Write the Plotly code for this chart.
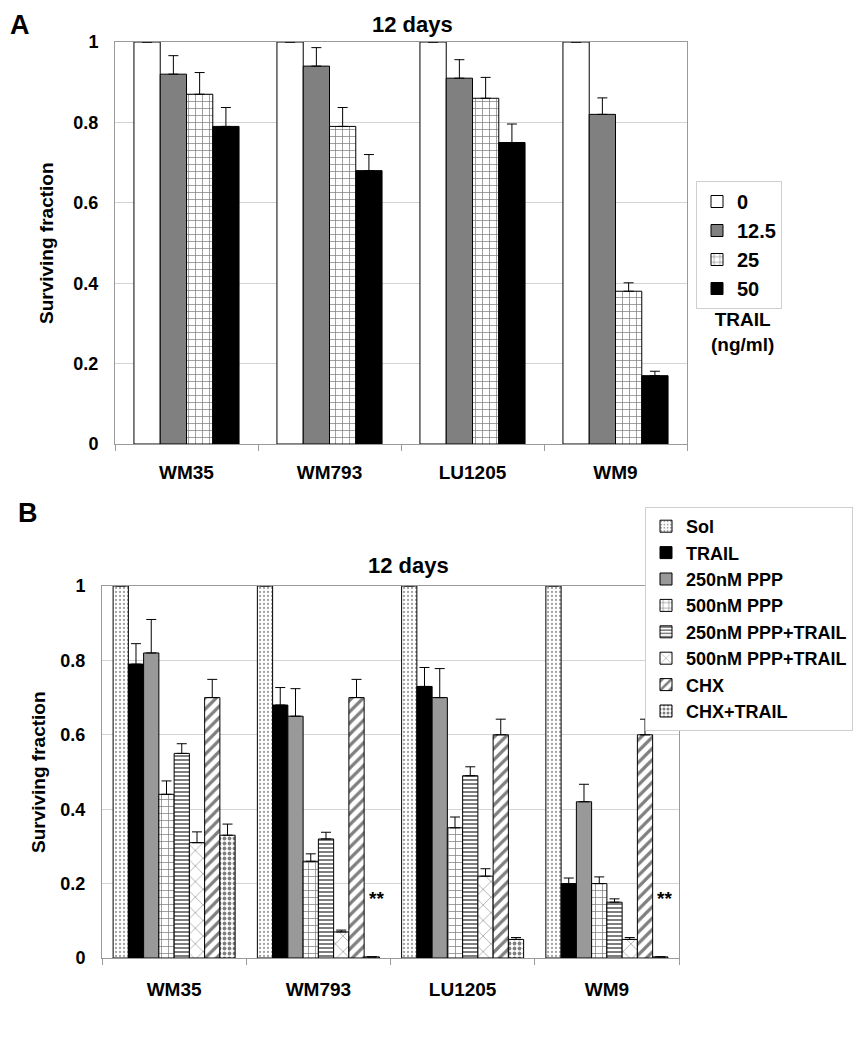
import plotly.graph_objects as go

# ---------------- data ----------------
cells = ["WM35", "WM793", "LU1205", "WM9"]

# Panel A: TRAIL dose (ng/ml)
a_names = ["0", "12.5", "25", "50"]
a_vals = [
    [1.00, 1.00, 1.00, 1.00],
    [0.92, 0.94, 0.91, 0.82],
    [0.87, 0.79, 0.86, 0.38],
    [0.79, 0.68, 0.75, 0.17],
]
a_errs = [
    [0.0, 0.0, 0.0, 0.0],
    [0.046, 0.046, 0.046, 0.041],
    [0.054, 0.047, 0.052, 0.021],
    [0.047, 0.040, 0.046, 0.011],
]

# Panel B: treatments
b_names = ["Sol", "TRAIL", "250nM PPP", "500nM PPP", "250nM PPP+TRAIL",
           "500nM PPP+TRAIL", "CHX", "CHX+TRAIL"]
b_vals = [
    [1.00, 1.00, 1.00, 1.00],
    [0.79, 0.68, 0.73, 0.20],
    [0.82, 0.65, 0.70, 0.42],
    [0.44, 0.26, 0.35, 0.20],
    [0.55, 0.32, 0.49, 0.15],
    [0.31, 0.07, 0.22, 0.05],
    [0.70, 0.70, 0.60, 0.60],
    [0.33, 0.003, 0.05, 0.003],
]
b_errs = [
    [0.002, 0.002, 0.002, 0.002],
    [0.055, 0.047, 0.051, 0.015],
    [0.090, 0.074, 0.078, 0.047],
    [0.036, 0.020, 0.029, 0.018],
    [0.026, 0.018, 0.024, 0.009],
    [0.029, 0.005, 0.020, 0.005],
    [0.049, 0.049, 0.042, 0.042],
    [0.030, 0.0, 0.005, 0.0],
]
star_cells = ["WM793", "WM9"]
star_text = "**"

# ---------------- styles ----------------
FONT = "Liberation Sans, Arial, sans-serif"
a_styles = [
    dict(color="white", pattern=dict(shape="")),
    dict(color="#808080", pattern=dict(shape="")),
    dict(color="white", pattern=dict(shape="+", size=7, solidity=0.2, fgcolor="black", bgcolor="white")),
    dict(color="black", pattern=dict(shape="")),
]
b_styles = [
    dict(color="white", pattern=dict(shape=".", size=4, solidity=0.25, fgcolor="#444", bgcolor="white")),
    dict(color="black", pattern=dict(shape="")),
    dict(color="#999999", pattern=dict(shape="")),
    dict(color="white", pattern=dict(shape="+", size=7, solidity=0.2, fgcolor="black", bgcolor="white")),
    dict(color="white", pattern=dict(shape="-", size=4, solidity=0.5, fgcolor="black", bgcolor="white")),
    dict(color="white", pattern=dict(shape="x", size=11, solidity=0.1, fgcolor="black", bgcolor="white")),
    dict(color="white", pattern=dict(shape="/", size=8, solidity=0.4, fgcolor="black", bgcolor="white")),
    dict(color="white", pattern=dict(shape=".", size=5, solidity=0.45, fgcolor="black", bgcolor="white")),
]

fig = go.Figure()

def add_group(names, vals, errs, styles, xa, ya, legend, group_frac):
    n = len(names)
    w = group_frac / n
    for k in range(n):
        fig.add_trace(go.Bar(
            x=cells, y=vals[k], name=names[k],
            width=w, offset=-group_frac / 2 + k * w,
            marker=dict(color=styles[k]["color"], pattern=styles[k]["pattern"],
                        line=dict(color="black", width=1)),
            error_y=dict(type="data", array=errs[k], arrayminus=[0] * len(cells),
                         symmetric=False, color="black", thickness=1, width=5),
            xaxis=xa, yaxis=ya, legend=legend,
        ))

add_group(a_names, a_vals, a_errs, a_styles, "x", "y", "legend", 0.735)
add_group(b_names, b_vals, b_errs, b_styles, "x2", "y2", "legend2", 0.846)

W, H = 864, 1050
OFF = 8  # page body margin
def px(x): return (x - OFF) / W
def py(y): return 1 - (y - OFF) / H

ax_common = dict(
    showline=True, linecolor="#9a9a9a", linewidth=1, mirror=True, automargin=False,
)
xt = dict(family=FONT, size=19, color="black", weight="bold")
yt = dict(family=FONT, size=18, color="black", weight="bold")
yticks = [0, 0.2, 0.4, 0.6, 0.8, 1]
ytext = ["0", "0.2", "0.4", "0.6", "0.8", "1"]

fig.update_layout(
    width=W, height=H, margin=dict(l=0, r=0, t=0, b=0),
    paper_bgcolor="white", plot_bgcolor="white",
    barmode="overlay",
    font=dict(family=FONT, color="black", weight="bold"),
    xaxis=dict(domain=[px(115), px(687)], anchor="y", type="category",
               ticks="outside", tickson="boundaries", ticklen=6, tickcolor="#9a9a9a",
               ticklabelstandoff=11, tickfont=xt, **ax_common),
    yaxis=dict(domain=[py(444), py(42)], anchor="x", range=[0, 1],
               tickvals=yticks, ticktext=ytext, showgrid=True, gridcolor="#d4d4d4",
               ticks="", ticklabelstandoff=12, zeroline=False, tickfont=yt, **ax_common),
    xaxis2=dict(domain=[px(102), px(679)], anchor="y2", type="category",
                ticks="outside", tickson="boundaries", ticklen=6, tickcolor="#9a9a9a",
                ticklabelstandoff=14, tickfont=xt, **ax_common),
    yaxis2=dict(domain=[py(958), py(586)], anchor="x2", range=[0, 1],
                tickvals=yticks, ticktext=ytext, showgrid=True, gridcolor="#d4d4d4",
                ticks="", ticklabelstandoff=12, zeroline=False, tickfont=yt, **ax_common),
    legend=dict(x=px(696), y=py(181), xanchor="left", yanchor="top",
                bordercolor="#cfcfcf", borderwidth=1, bgcolor="white",
                font=dict(family=FONT, size=20, color="black", weight="bold"),
                tracegroupgap=0, itemwidth=30),
    legend2=dict(x=px(645), y=py(507), xanchor="left", yanchor="top",
                 bordercolor="#cfcfcf", borderwidth=1, bgcolor="white",
                 font=dict(family=FONT, size=18, color="black", weight="bold"),
                 tracegroupgap=0, itemwidth=30),
    showlegend=True,
)

ann = []
def t(text, x, y, size, angle=0, xanchor="center", yanchor="middle"):
    ann.append(dict(text=text, x=px(x), y=py(y), xref="paper", yref="paper",
                    showarrow=False, textangle=angle, xanchor=xanchor, yanchor=yanchor,
                    font=dict(family=FONT, size=size, color="black", weight="bold")))

t("A", 20, 25, 27)
t("B", 28, 513, 27)
t("12 days", 412, 24, 22)
t("12 days", 408, 565, 22)
t("Surviving fraction", 47, 243, 19, angle=-90)
t("Surviving fraction", 38, 772, 19, angle=-90)
t("TRAIL<br>(ng/ml)", 742, 332, 19)

for c in star_cells:
    idx = cells.index(c)
    ann.append(dict(text=star_text, x=idx + 0.40, y=0.16, xref="x2", yref="y2",
                    showarrow=False, xanchor="center", yanchor="middle",
                    font=dict(family=FONT, size=19, color="black", weight="bold")))

fig.update_layout(annotations=ann)
fig.write_html("out.html")
